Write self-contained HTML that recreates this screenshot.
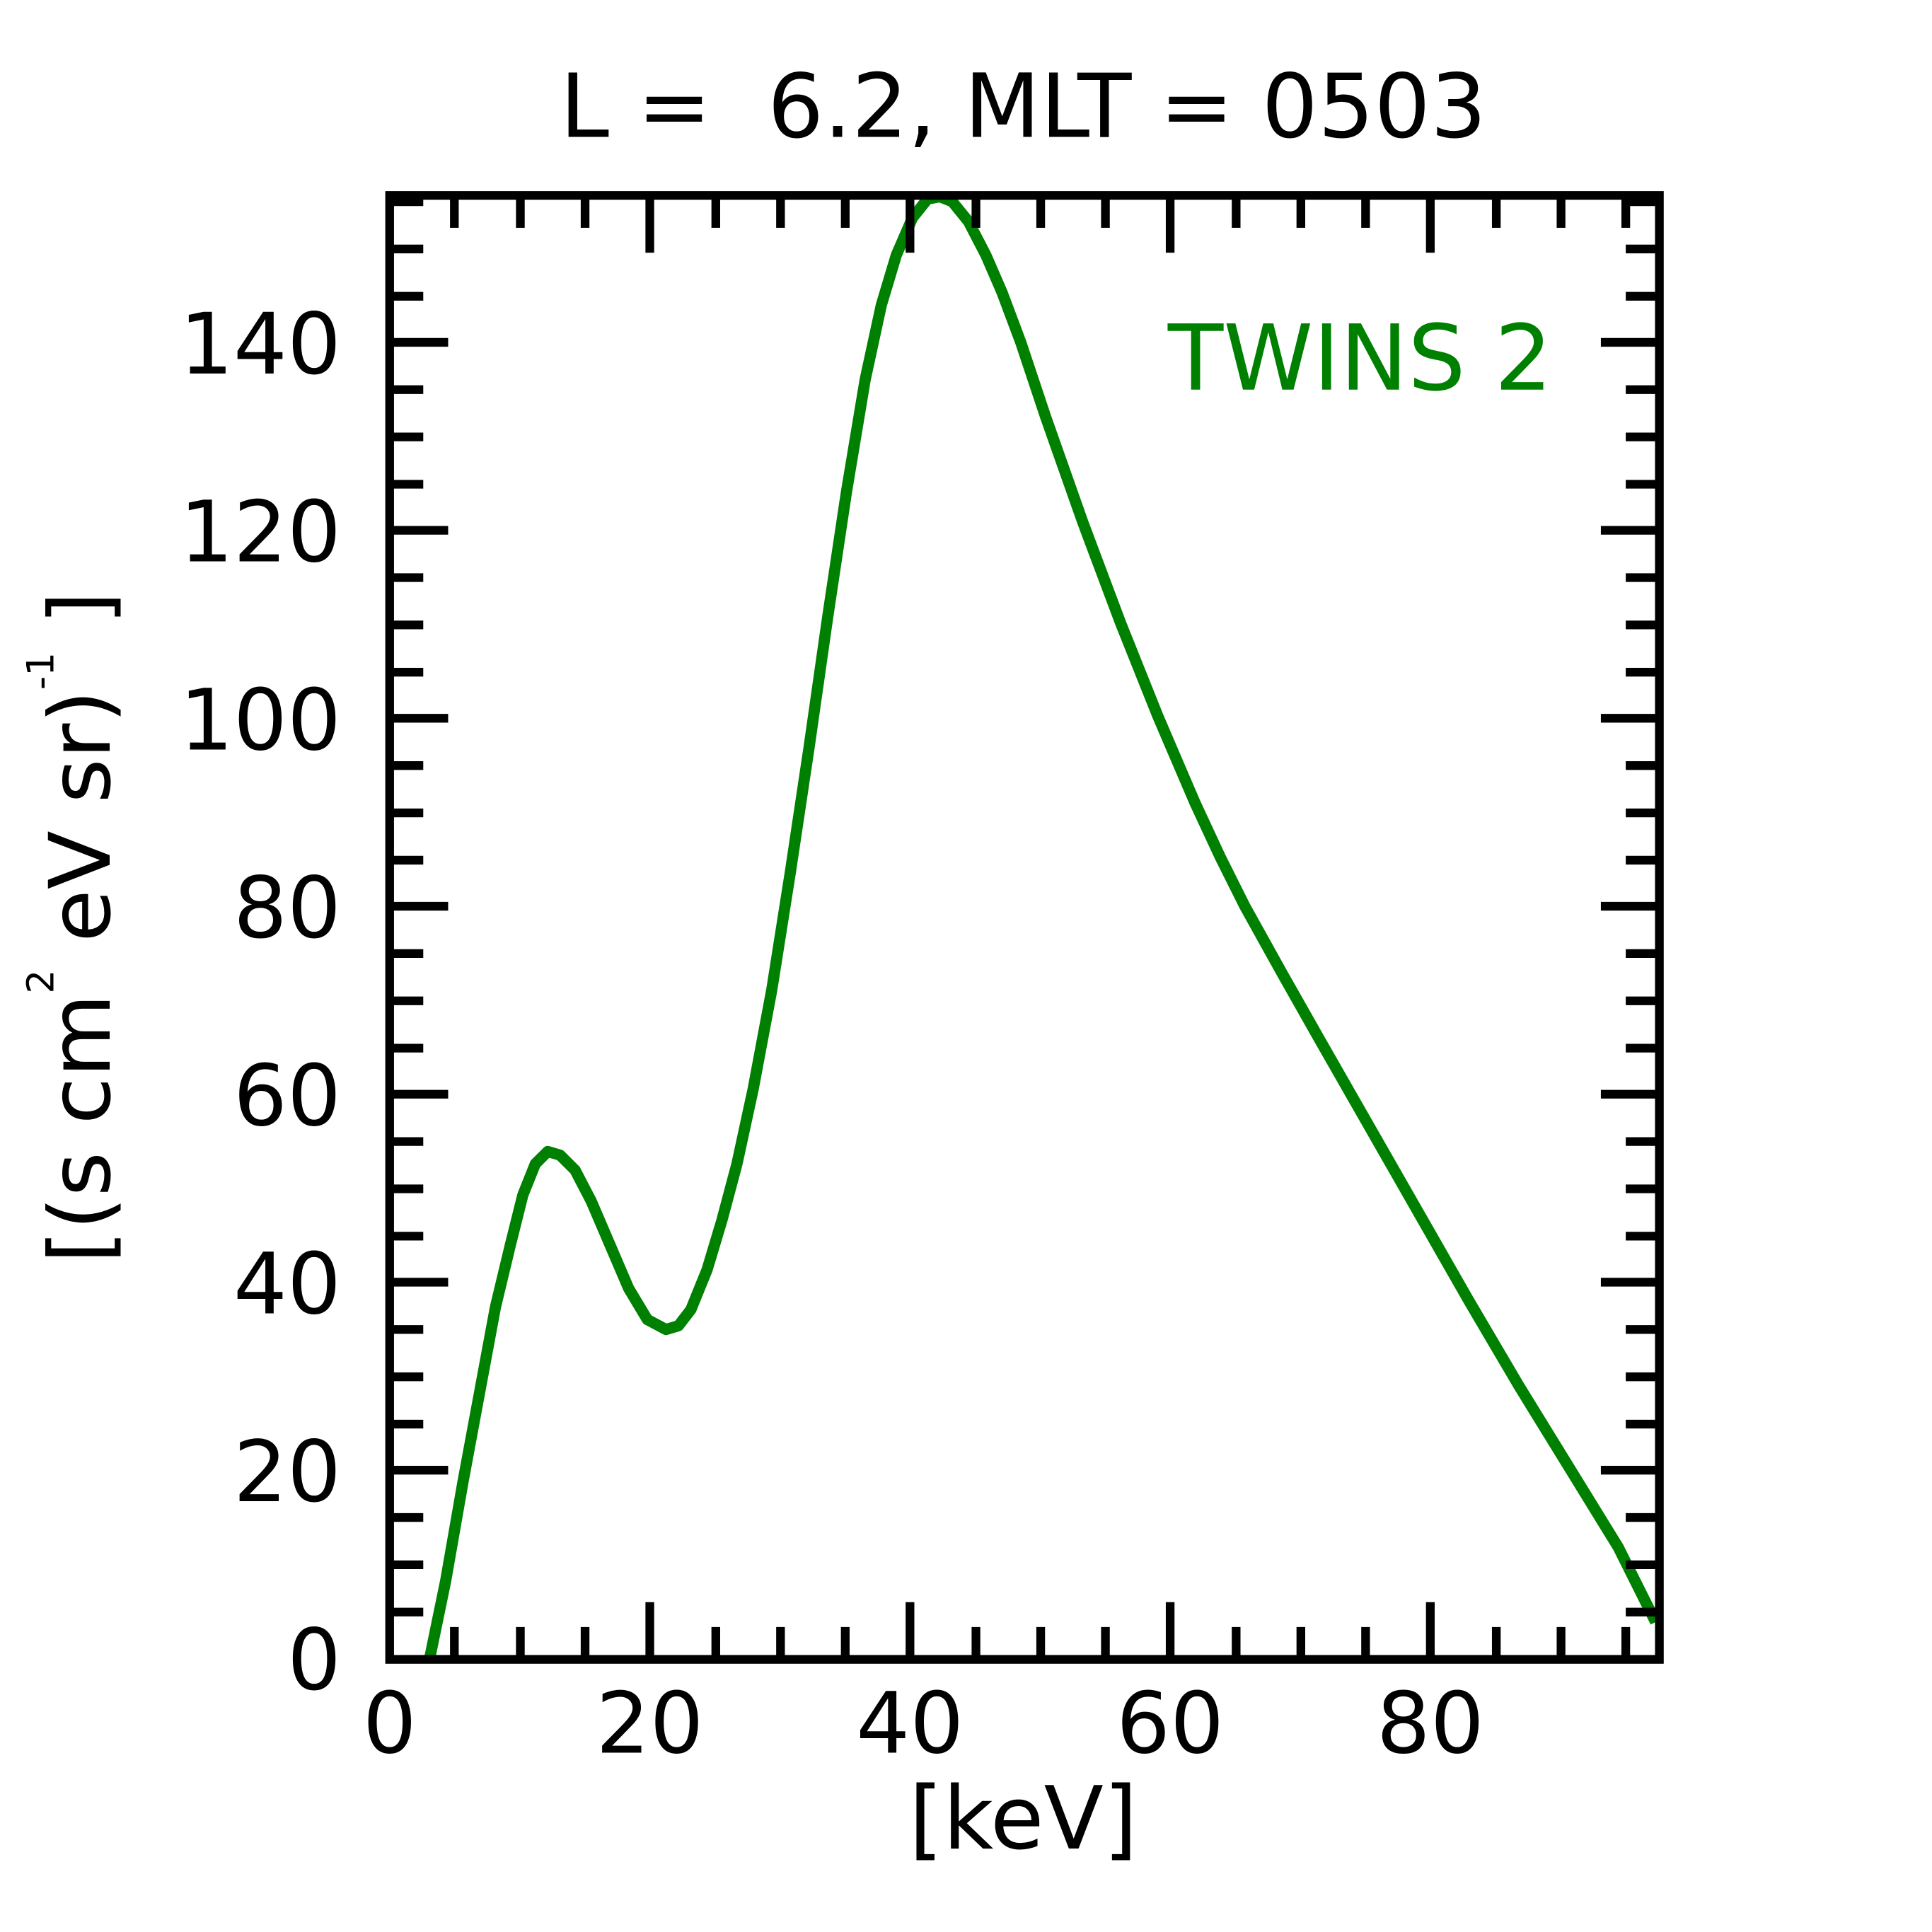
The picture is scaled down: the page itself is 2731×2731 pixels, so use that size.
<!DOCTYPE html>
<html><head><style>html,body{margin:0;padding:0;background:#fff}svg{display:block}</style></head>
<body>
<svg width="2731" height="2731" viewBox="0 0 1552 1552" xmlns="http://www.w3.org/2000/svg" font-family="DejaVu Sans, Liberation Sans, sans-serif">
<rect width="1552" height="1552" fill="#fff"/>
<defs><clipPath id="c"><rect x="313" y="157" width="1020" height="1176"/></clipPath></defs>
<polyline clip-path="url(#c)" fill="none" stroke="#008000" stroke-width="9" stroke-linejoin="round"
points="345,1333 358,1270 372,1190 385,1120 398,1050 410,1000 420,960 430,935 440,925 450,928 462,940 475,965 490,1000 505,1035 520,1060 535,1068 545,1065 555,1052 568,1020 580,980 592,935 605,875 620,795 635,700 650,600 665,495 680,395 695,305 708,245 720,205 733,175 745,160 755,158 765,162 778,178 792,205 805,235 820,275 840,335 870,420 900,500 930,575 960,645 980,688 1000,728 1030,782 1060,835 1120,940 1180,1045 1220,1113 1260,1178 1300,1243 1330,1303"/>
<g stroke="#000" stroke-width="7">
<path d="M522,157v46M731,157v46M940,157v46M1149,157v46M522,1333v-46M731,1333v-46M940,1333v-46M1149,1333v-46"/>
<path d="M365,157v26M418,157v26M470,157v26M575,157v26M627,157v26M679,157v26M784,157v26M836,157v26M888,157v26M993,157v26M1045,157v26M1097,157v26M1202,157v26M1254,157v26M1306,157v26
M365,1333v-26M418,1333v-26M470,1333v-26M575,1333v-26M627,1333v-26M679,1333v-26M784,1333v-26M836,1333v-26M888,1333v-26M993,1333v-26M1045,1333v-26M1097,1333v-26M1202,1333v-26M1254,1333v-26M1306,1333v-26"/>
<path d="M313,1181h47M313,1030h47M313,879h47M313,728h47M313,577h47M313,426h47M313,275h47M1333,1181h-47M1333,1030h-47M1333,879h-47M1333,728h-47M1333,577h-47M1333,426h-47M1333,275h-47"/>
<path d="M313,1295h27M313,1257h27M313,1219h27M313,1144h27M313,1106h27M313,1068h27M313,993h27M313,955h27M313,917h27M313,842h27M313,804h27M313,766h27M313,691h27M313,653h27M313,615h27M313,540h27M313,502h27M313,464h27M313,389h27M313,351h27M313,313h27M313,238h27M313,200h27M313,162h27
M1333,1295h-27M1333,1257h-27M1333,1219h-27M1333,1144h-27M1333,1106h-27M1333,1068h-27M1333,993h-27M1333,955h-27M1333,917h-27M1333,842h-27M1333,804h-27M1333,766h-27M1333,691h-27M1333,653h-27M1333,615h-27M1333,540h-27M1333,502h-27M1333,464h-27M1333,389h-27M1333,351h-27M1333,313h-27M1333,238h-27M1333,200h-27M1333,162h-27"/>
<rect x="313" y="157" width="1020" height="1176" fill="none"/>
</g>
<g font-size="68" fill="#000">
<g text-anchor="end">
<text x="274" y="1357">0</text>
<text x="274" y="1206">20</text>
<text x="274" y="1055">40</text>
<text x="274" y="904">60</text>
<text x="274" y="753">80</text>
<text x="274" y="602">100</text>
<text x="274" y="451">120</text>
<text x="274" y="300">140</text>
</g>
<g text-anchor="middle">
<text x="313" y="1408">0</text>
<text x="522" y="1408">20</text>
<text x="731" y="1408">40</text>
<text x="940" y="1408">60</text>
<text x="1149" y="1408">80</text>
<text x="822" y="110" font-size="71">L =&#160; 6.2, MLT = 0503</text>
<text x="822" y="1485" font-size="70">[keV]</text>
</g>
<text x="1247" y="313" text-anchor="end" fill="#008000" font-size="73">TWINS 2</text>
<text transform="translate(88,1015) rotate(-90)" textLength="540" lengthAdjust="spacingAndGlyphs">[(s cm<tspan font-size="30" dy="-45">2</tspan><tspan dy="45"> eV sr)</tspan><tspan font-size="30" dy="-45">-1</tspan><tspan dy="45"> ]</tspan></text>
</g>
</svg>
</body></html>
